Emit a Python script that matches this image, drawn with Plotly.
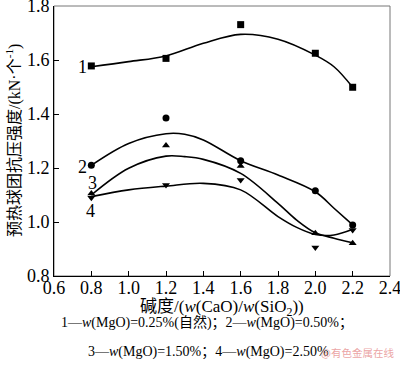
import plotly.graph_objects as go

# measured points
x_pts = [0.8, 1.2, 1.6, 2.0, 2.2]
s1_pts = [1.578, 1.606, 1.731, 1.625, 1.499]
s2_pts = [1.210, 1.385, 1.227, 1.116, 0.989]
s3_pts = [1.106, 1.283, 1.207, 0.958, 0.921]
s4_pts = [1.090, 1.137, 1.156, 0.906, 0.970]

# fitted curves
c1_x = [0.8, 1.0, 1.2, 1.4, 1.6, 1.8, 2.0, 2.1, 2.2]
c1_y = [1.575, 1.594, 1.615, 1.662, 1.695, 1.677, 1.618, 1.575, 1.499]
c2_x = [0.8, 1.0, 1.2, 1.3, 1.4, 1.6, 1.8, 2.0, 2.1, 2.2]
c2_y = [1.210, 1.291, 1.327, 1.325, 1.304, 1.227, 1.174, 1.112, 1.051, 0.989]
c3_x = [0.8, 1.0, 1.2, 1.3, 1.4, 1.6, 1.8, 1.9, 2.0, 2.1, 2.2]
c3_y = [1.100, 1.199, 1.244, 1.242, 1.232, 1.180, 1.069, 1.007, 0.960, 0.940, 0.923]
c4_x = [0.8, 1.0, 1.2, 1.4, 1.6, 1.8, 1.9, 2.0, 2.1, 2.2]
c4_y = [1.094, 1.119, 1.133, 1.143, 1.119, 1.020, 0.980, 0.954, 0.952, 0.973]

labels = ["1", "2", "3", "4"]
label_pos = [(0.75, 1.575), (0.75, 1.205), (0.804, 1.144), (0.798, 1.041)]

x_ticks = [0.6, 0.8, 1.0, 1.2, 1.4, 1.6, 1.8, 2.0, 2.2, 2.4]
y_ticks = [0.8, 1.0, 1.2, 1.4, 1.6, 1.8]

font_serif = "Liberation Serif, Times New Roman, serif"
font_mix = "Liberation Serif, Noto Sans CJK SC, serif"

fig = go.Figure()
for cx, cy in [(c1_x, c1_y), (c2_x, c2_y), (c3_x, c3_y), (c4_x, c4_y)]:
    fig.add_trace(go.Scatter(x=cx, y=cy, mode="lines", line=dict(color="black", width=1.6, shape="spline", smoothing=1.0),
                             showlegend=False, hoverinfo="skip"))

for ys, sym in [(s1_pts, "square"), (s2_pts, "circle"), (s3_pts, "triangle-up"), (s4_pts, "triangle-down")]:
    fig.add_trace(go.Scatter(x=x_pts, y=ys, mode="markers",
                             marker=dict(symbol=sym, size=7, color="black", line=dict(width=0)),
                             showlegend=False))

for lab, (lx, ly) in zip(labels, label_pos):
    fig.add_annotation(x=lx, y=ly, text=lab, showarrow=False, xref="x", yref="y",
                       font=dict(family=font_serif, size=18, color="black"))

fig.update_xaxes(range=[0.6, 2.4], tickvals=x_ticks, ticktext=[f"{v:.1f}" for v in x_ticks],
                 ticks="inside", ticklen=5, tickcolor="black", showline=True, linecolor="black", linewidth=1,
                 showgrid=False, zeroline=False, ticklabeloverflow="allow", ticklabelstandoff=-5,
                 automargin=False,
                 tickfont=dict(family=font_serif, size=18, color="black"))
fig.update_yaxes(range=[0.8, 1.8], tickvals=y_ticks, ticktext=[f"{v:.1f}" for v in y_ticks],
                 ticks="inside", ticklen=5, tickcolor="black", showline=True, linecolor="black", linewidth=1,
                 showgrid=False, zeroline=False, ticklabeloverflow="allow", automargin=False,
                 tickfont=dict(family=font_serif, size=18, color="black"))

fig.add_shape(type="rect", xref="paper", yref="paper", x0=0, y0=0, x1=1, y1=1,
              line=dict(color="#777777", width=1), layer="below")

fig.add_annotation(xref="paper", yref="paper", x=-0.122, y=0.5, xanchor="center", yanchor="middle",
                   text="预热球团抗压强度/(kN·个<sup>-1</sup>)", textangle=-90, showarrow=False,
                   font=dict(family=font_mix, size=16, color="black"))
fig.add_annotation(xref="paper", yref="paper", x=0.5, y=-0.1185, xanchor="center", yanchor="middle",
                   text="碱度/(<i>w</i>(CaO)/<i>w</i>(SiO<sub>2</sub>))", showarrow=False,
                   font=dict(family=font_mix, size=17, color="black"))
fig.add_annotation(xref="paper", yref="paper", x=0.455, y=-0.174, xanchor="center", yanchor="middle",
                   text="1—<i>w</i>(MgO)=0.25%(自然)；2—<i>w</i>(MgO)=0.50%；", showarrow=False,
                   font=dict(family=font_mix, size=14, color="black"))
fig.add_annotation(xref="paper", yref="paper", x=0.46, y=-0.281, xanchor="center", yanchor="middle",
                   text="3—<i>w</i>(MgO)=1.50%；4—<i>w</i>(MgO)=2.50%", showarrow=False,
                   font=dict(family=font_mix, size=14, color="black"))
fig.add_annotation(xref="paper", yref="paper", x=1.018, y=-0.285, xanchor="right", yanchor="middle",
                   text="@有色金属在线", showarrow=False,
                   font=dict(family="Noto Sans CJK SC", size=10.5, color="rgba(230,140,140,0.8)"))

fig.update_layout(width=400, height=367, margin=dict(l=54, r=10, t=6, b=91, autoexpand=False),
                  plot_bgcolor="white", paper_bgcolor="white")

fig.write_html("out.html", config={"displayModeBar": False},
               post_script="document.body.style.margin='0';document.body.style.padding='0';")
